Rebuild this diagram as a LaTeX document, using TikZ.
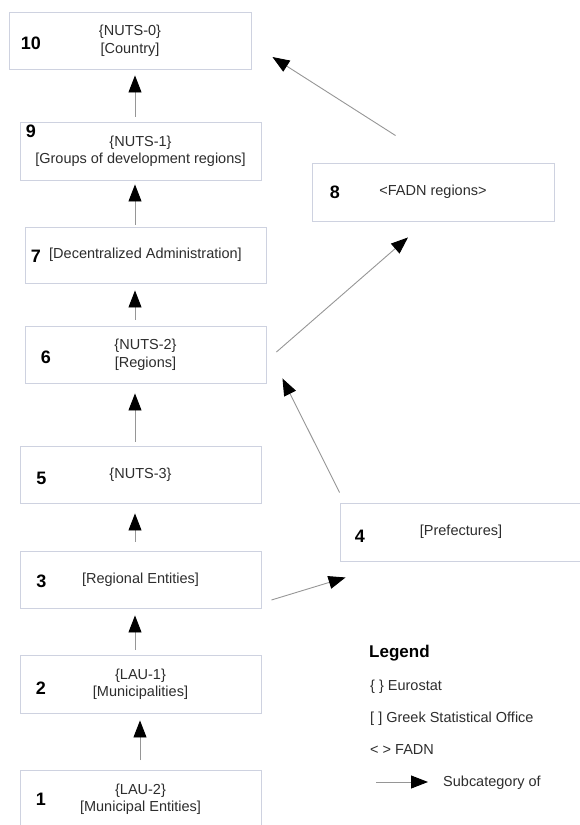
\documentclass[tikz,border=0pt]{standalone}
\usepackage{fontspec}
\setmainfont{Liberation Sans}
\usetikzlibrary{arrows.meta,calc}
\definecolor{boxline}{RGB}{206,210,224}
\definecolor{arrline}{RGB}{150,150,150}
\definecolor{txt}{RGB}{45,45,45}
\begin{document}
\begin{tikzpicture}[x=1pt,y=-1pt,
  levelbox/.style={draw=boxline,line width=0.9pt,fill=white,rectangle,inner sep=0pt,
    minimum width=241pt,minimum height=57pt,align=center,text=txt,
    font=\fontsize{14.5}{17.5}\selectfont},
  numlabel/.style={font=\fontsize{18}{20}\selectfont\bfseries,text=black,inner sep=0pt},
  legtext/.style={anchor=base west,inner sep=0pt,text=txt,font=\fontsize{14.5}{17.5}\selectfont},
  arr/.style={draw=arrline,line width=0.9pt,-{Triangle[length=17pt,width=13pt,color=black]}}
]
\useasboundingbox (0,0) rectangle (579,825);

% boxes
\node[levelbox,minimum width=242pt] (b10) at (130,40.5) {\{NUTS-0\}\\{}[Country]};
\node[levelbox,minimum height=58pt] (b9) at (140.5,151) {\{NUTS-1\}\\{}[Groups of development regions]};
\node[levelbox,minimum height=56pt] (b7) at (145.5,255) {[Decentralized Administration]};
\node[levelbox] (b6) at (145.5,354.5) {\{NUTS-2\}\\{}[Regions]};
\node[levelbox] (b5) at (140.5,474.5) {\{NUTS-3\}};
\node[levelbox] (b3) at (140.5,579.5) {[Regional Entities]};
\node[levelbox,minimum height=58pt] (b2) at (140.5,684) {\{LAU-1\}\\{}[Municipalities]};
\node[levelbox] (b1) at (140.5,799) {\{LAU-2\}\\{}[Municipal Entities]};
\node[levelbox,minimum width=242pt,minimum height=58pt] (b8) at (433,192) {\textless FADN regions\textgreater};
\node[levelbox,minimum width=242pt,minimum height=58pt] (b4) at (461,532) {[Prefectures]};

% numbers
\node[numlabel] (n10) at (31,43) {10};
\node[numlabel] (n9) at (31,131) {9};
\node[numlabel] (n7) at (36,256) {7};
\node[numlabel] (n6) at (46,357) {6};
\node[numlabel] (n5) at (41.5,478) {5};
\node[numlabel] (n3) at (41.5,581) {3};
\node[numlabel] (n2) at (41,688) {2};
\node[numlabel] (n1) at (41,799) {1};
\node[numlabel] (n8) at (335,192) {8};
\node[numlabel] (n4) at (360,536) {4};

% vertical arrows
\coordinate (ax) at (135,0);
\coordinate (bx) at (140,0);
\draw[arr,shorten <=5pt,shorten >=6pt] (b9.north -| ax) -- (b10.south -| ax);
\draw[arr,shorten <=2pt,shorten >=4pt] (b7.north -| ax) -- (b9.south -| ax);
\draw[arr,shorten <=6pt,shorten >=7pt] (b6.north -| ax) -- (b7.south -| ax);
\draw[arr,shorten <=4pt,shorten >=10pt] (b5.north -| ax) -- (b6.south -| ax);
\draw[arr,shorten <=9pt,shorten >=10pt] (b3.north -| ax) -- (b5.south -| ax);
\draw[arr,shorten <=5pt,shorten >=7pt] (b2.north -| ax) -- (b3.south -| ax);
\draw[arr,shorten <=10pt,shorten >=7pt] (b1.north -| bx) -- (b2.south -| bx);

% diagonal arrows
\draw[arr] ($(b6.east)+(10,-2.5)$) -- ($(b8.south)+(-25,16)$);
\draw[arr] ($(b4.north west)+(0,-10)$) -- ($(b6.south east)+(16,-5)$);
\draw[arr] ($(b3.east)+(10,20.5)$) -- ($(b4.south west)+(6,16)$);
\draw[arr] ($(b8.north west)+(84,-27)$) -- ($(b10.east)+(21,16.5)$);

% legend
\node[legtext,font=\fontsize{17}{20}\selectfont\bfseries,text=black] (lg) at (369,657) {Legend};
\node[legtext] (l1) at (370,690) {\{ \} Eurostat};
\node[legtext] (l2) at (370,722) {[ ] Greek Statistical Office};
\node[legtext] (l3) at (370,754) {\textless{} \textgreater{} FADN};
\coordinate (la) at (376,782);
\coordinate (lb) at (428,782);
\draw[arr] (la) -- (lb);
\node[legtext] (l4) at (443,786.5) {Subcategory of};
\end{tikzpicture}
\end{document}
